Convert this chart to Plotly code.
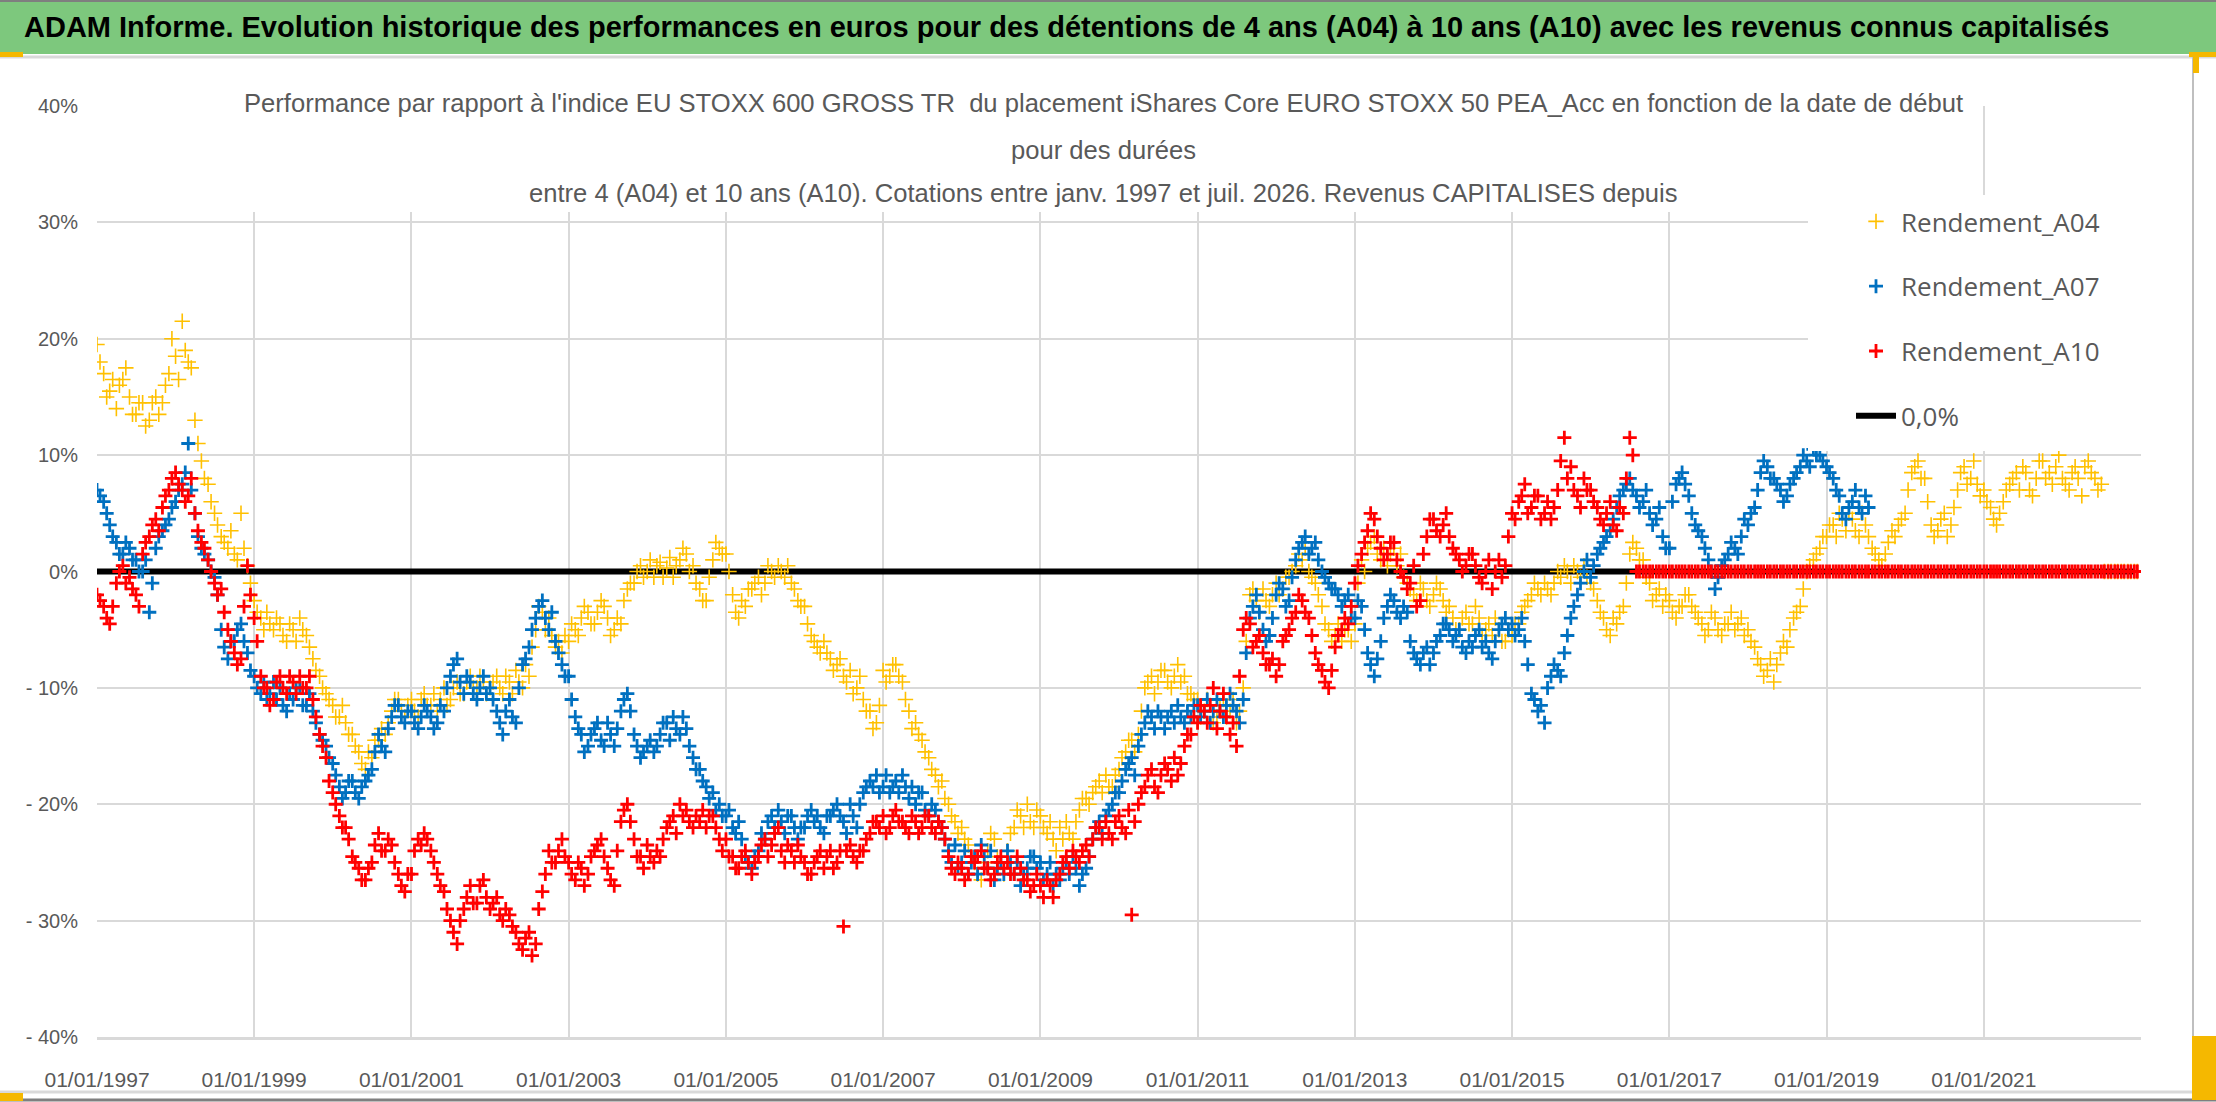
import pandas as pd
import plotly.graph_objects as go

# ---------------- data (in %) ----------------
# Two readings per month: one at the start of the month, one mid-month.
START = "1997-01-01"
N_MONTHS = 312  # Jan 1997 .. Dec 2022

A04 = [
    19.5, 17, 15.5, 14, 16.5, 15, 13.5, 14.5, 13, 15, 14.5, 17,          # 1997
    18.5, 21.5, 18, 13, 9.5, 7.5, 5, 3, 2, 1.5, 5, 0.5,                  # 1998
    -2.5, -4, -3.5, -5, -4.5, -6, -5, -4, -5.5, -7.5, -9, -10.5,         # 1999
    -11.5, -12.5, -13, -14, -15.5, -17, -16, -14.5, -14, -12, -11, -12.5,  # 2000
    -11, -12.5, -10.5, -11.5, -12, -10, -11, -9.5, -10.5, -9, -10, -9.5,  # 2001
    -10, -9, -10.5, -9.5, -8.5, -10, -9, -5, -3.5, -4, -6.5, -7,         # 2002
    -6, -5, -4, -3.5, -4.5, -2.5, -4, -5, -4.5, -1.5, -1, 0.5,           # 2003
    0, -0.5, 0.8, 0.3, -0.5, 1, 1.5, 0.5, -1.5, -2.5, 1, 2,              # 2004
    1.5, -2, -4, -3, -1.5, -0.5, -1, 0, 0.5, -0.5, -1, -2.5,             # 2005
    -3, -5.5, -6.5, -6, -7.5, -8, -9, -8.5, -10, -11, -12, -13,          # 2006
    -8.5, -9, -8, -9.5, -12, -13, -14.5, -16, -17.5, -18, -20, -21.5,    # 2007
    -22, -23.5, -25, -26.5, -24, -23, -25, -24, -22, -21, -20, -22,      # 2008
    -21, -22.5, -23, -22, -21.5, -23, -20.5, -19.5, -19, -18, -17.5, -18.5,  # 2009
    -17, -15.5, -14.5, -14, -10, -9, -9.5, -8.5, -10, -8, -9, -10.5,     # 2010
    -11, -12, -11.5, -12.5, -11, -12, -13, -10, -2, -2.5, -1.5, -3,      # 2011
    -1, -1.5, -0.5, 0.5, 1, 0, -1, -3, -5, -5.5, -6, -5,                 # 2012
    -4.5, 1, 2, 3, 1, 0.5, 2, 1.5, -1, -2, -1, -2.5,                     # 2013
    -2, -1.5, -3.5, -4, -5, -3.5, -4.5, -4, -5, -5.5, -5, -6,            # 2014
    -5.5, -4.5, -3, -2, -1.5, -1, -2, 0, 0.5, -1, 0, 0.5,                # 2015
    -1, -2.5, -4, -5.5, -4.5, -3, 1.5, 2, 1, -1, -2, -3,                 # 2016
    -2.5, -4, -3, -2, -3.5, -4.5, -5, -4, -5.5, -4.5, -5, -4,            # 2017
    -5, -6.5, -8, -8.5, -9.5, -7, -6.5, -4, -3, 0, 1, 2,                 # 2018
    3, 4, 5, 3.5, 4.5, 3, 4, 2, 1, 1.5, 3.5, 4,                          # 2019
    5, 8.5, 9.5, 8, 4, 3.5, 5, 4, 7, 9, 8, 7.5,                          # 2020
    7, 5.5, 4, 6, 7.5, 8.5, 9, 7, 8, 9.5, 8.5, 9,                        # 2021
    8, 7, 9, 6.5, 9.5, 8, 7.5, 0, 0, 0, 0, 0,                            # 2022
]
A04_MID = [
    18, 15, 16.5, 16, 17.5, 13.5, 14.5, 12.5, 14.5, 13.5, 16, 20,        # 1997
    16.5, 19, 17.5, 11, 8, 6, 4, 2.5, 3.5, 1, 2, -1,                     # 1998
    -3.5, -5, -4.5, -4, -5.5, -4.5, -6, -5, -6.5, -8.5, -10, -11,        # 1999
    -12.5, -11.5, -14, -15, -16.5, -15.5, -14.5, -13.5, -13, -11, -12, -11.5,  # 2000
    -12, -11, -11.5, -10.5, -11, -11.5, -10, -10.5, -9.5, -10, -9, -10.5,  # 2001
    -9.5, -10, -9, -10.5, -9.5, -8, -6.5, -3, -5, -5.5, -6, -5.5,        # 2002
    -4.5, -5.5, -3, -4.5, -3.5, -3, -5.5, -4, -2.5, -1, 0, -0.5,         # 2003
    1, 0.5, -0.5, 1.2, 0.5, 2, 0, -1, -2.5, -0.5, 2.5, 1.5,              # 2004
    0, -3.5, -2.5, -1.5, -1, -2, 0.5, -0.5, 0, 0.5, -1.5, -3,            # 2005
    -4.5, -6, -7, -7, -8.5, -7.5, -9.5, -10.5, -9, -12, -13.5, -11.5,    # 2006
    -9.5, -8, -9, -11, -13.5, -14, -15.5, -17, -18.5, -19.5, -21, -22.5,  # 2007
    -23, -24.5, -26, -25, -22.5, -24.5, -26, -22.5, -20.5, -22, -21.5, -20.5,  # 2008
    -22, -21.5, -24, -23, -22.5, -21.5, -19.5, -20, -18.5, -19, -18.5, -17.5,  # 2009
    -16, -14.5, -15.5, -12, -9.5, -10.5, -8.5, -9.5, -9, -9.5, -10.5, -11,  # 2010
    -12.5, -11, -13, -11.5, -12.5, -11, -12, -6, -1.5, -3.5, -2.5, -2,   # 2011
    -2, -0.5, 0, 1.5, 2, -0.5, -2, -4.5, -6, -4.5, -5, -6,               # 2012
    -1, 0, 2.5, 1.5, 2, 1.5, 0.5, -0.5, -1.5, -2.5, -1.5, -3,            # 2013
    -1, -2.5, -3, -5, -4, -4.5, -3, -5.5, -4.5, -4, -6, -5,              # 2014
    -4.5, -3.5, -2.5, -1, -2, -1.5, -1, -0.5, 0, 0.5, -0.5, -0.5,        # 2015
    -1.5, -3.5, -5, -4, -3.5, -1, 2.5, 1, -0.5, -2.5, -1.5, -2,          # 2016
    -3.5, -3, -2, -3, -4, -5.5, -3.5, -5, -4.5, -3.5, -4.5, -5.5,        # 2017
    -6, -7.5, -9, -7.5, -8, -6, -5, -3.5, -1.5, 0.5, 1.5, 3,             # 2018
    4, 3, 4.5, 5, 3.5, 5, 3, 1.5, 0.5, 2.5, 3, 4.5,                      # 2019
    7, 9, 8, 6, 3, 4.5, 3, 5.5, 8.5, 7.5, 9.5, 6.5,                      # 2020
    6, 4.5, 5, 7, 8, 7, 8.5, 6.5, 9.5, 8, 7.5, 10,                       # 2021
    7.5, 8.5, 8, 9, 8.5, 7, 0, 0, 0, 0, 0, 0,                            # 2022
]

A07 = [
    7, 6, 4, 2.5, 1.5, 2, 1, 0, -3.5, 2, 3.5, 4.5,                       # 1997
    6, 7.5, 11, 5, 2, 1, -0.5, -5, -7.5, -6, -4.5, -7,                   # 1998
    -9, -10.5, -11, -9.5, -10, -12, -11, -10, -11.5, -12, -14, -15,      # 1999
    -16.5, -18.5, -19, -18, -19.5, -18, -17, -14, -15.5, -12.5, -11.5, -13,  # 2000
    -12, -13.5, -11.5, -12.5, -13, -12, -9, -7.5, -10.5, -9.5, -11, -9,  # 2001
    -10, -12, -14, -11, -13, -8, -6.5, -4, -2.5, -5, -6, -8,             # 2002
    -9, -12.5, -14, -15, -13.5, -14.5, -13, -15, -12, -10.5, -14, -16,   # 2003
    -15, -15.5, -14, -13, -12.5, -14, -13.5, -16, -17, -18.5, -19, -20,  # 2004
    -21, -22, -21.5, -24.5, -25.5, -24, -23, -21, -20.5, -22.5, -21, -23,  # 2005
    -22, -20.5, -21, -22.5, -21, -20, -21.5, -20, -22, -19, -18, -17.5,  # 2006
    -18.5, -19, -18, -17.5, -19.5, -20, -19, -21, -20.5, -22, -24, -23.5,  # 2007
    -25, -26, -24.5, -23.5, -25.5, -26.5, -25, -24, -26, -27, -25.5, -24.5,  # 2008
    -25, -26, -27, -26.5, -25, -24.5, -27, -25.5, -23, -21.5, -21, -20,  # 2009
    -19, -17, -16, -15, -13, -12.5, -12, -13.5, -12, -11.5, -13, -12.5,  # 2010
    -11.5, -12, -13, -11, -12.5, -10.5, -12, -11, -4, -2, -5, -5.5,      # 2011
    -2, -1.5, -2.5, 1, 2.5, 1.5, 2.5, 0, -1, -1.5, -3, -2,               # 2012
    -4, -3, -7, -9, -6, -3, -2.5, -4, -3.5, -7, -8, -6.5,                # 2013
    -7, -5.5, -4.5, -6, -5, -7, -6.5, -5, -6, -7.5, -5, -4,              # 2014
    -4.5, -5, -6, -10.5, -12, -13, -9, -8.5, -7, -4, -2, 0,              # 2015
    -0.5, 1.5, 2.5, 3.5, 5.5, 7, 8, 6.5, 6, 5, 4.5, 3,                   # 2016
    2, 7.5, 8.5, 6.5, 4, 3, 1, -1.5, 0.5, 1.5, 2, 3,                     # 2017
    4, 5.5, 8.5, 9, 8, 7, 6.5, 8, 9, 9.5, 10.5, 10,                      # 2018
    9, 8, 6.5, 4.5, 6, 5.5, 6.5,                                         # 2019 (to July)
]
A07_MID = [
    6.5, 5, 3, 1.5, 2.5, 1, 0, 1, -1, 3, 4, 5.5,                         # 1997
    7, 8.5, 7, 3, 1.5, 0, -2, -6.5, -6, -5, -6, -8.5,                    # 1998
    -10, -9.5, -10.5, -11, -11.5, -10.5, -10, -11.5, -10.5, -13, -14.5, -16,  # 1999
    -17.5, -19.5, -18, -19, -18.5, -17.5, -15.5, -15, -13.5, -11.5, -12.5, -12,  # 2000
    -13, -12.5, -12, -13.5, -11.5, -10, -8, -9.5, -9, -10.5, -10, -10.5,  # 2001
    -11, -13, -12, -12.5, -10, -7.5, -5, -3, -4, -3.5, -7, -9,           # 2002
    -11, -13.5, -15.5, -14, -13, -15, -14, -13.5, -11, -12, -15, -15.5,  # 2003
    -14.5, -15, -13, -14.5, -13.5, -12.5, -15, -17, -18, -19.5, -20.5, -21,  # 2004
    -20.5, -22.5, -23, -25, -24.5, -22.5, -21.5, -22, -21.5, -21, -22, -22,  # 2005
    -21, -21.5, -22, -21, -20.5, -21, -22.5, -21, -20, -18.5, -18.5, -19,  # 2006
    -17.5, -18.5, -19, -18.5, -18.5, -19, -20.5, -20, -21.5, -23, -25, -25.5,  # 2007
    -24, -25, -26, -24.5, -24, -25.5, -26, -25, -25, -26, -24.5, -25.5,  # 2008
    -26.5, -25, -26, -25.5, -26, -25.5, -26, -24.5, -22, -22.5, -20.5, -19,  # 2009
    -18, -16.5, -17.5, -14, -12, -13.5, -12.5, -12.5, -13, -12.5, -12, -11.5,  # 2010
    -12.5, -11, -12, -12, -11.5, -11.5, -13, -7, -3, -3.5, -6, -4,       # 2011
    -1, -3, -0.5, 2, 3, 2, 1, -0.5, -1.5, -2, -2.5, -4,                  # 2012
    -2.5, -5, -8, -7.5, -4, -2, -3.5, -3, -6, -7.5, -7, -8,              # 2013
    -6, -4.5, -5, -5.5, -6.5, -6, -5.5, -6.5, -7, -6, -4.5, -5,          # 2014
    -5.5, -4, -8, -11, -11.5, -10, -8, -9, -5.5, -3, -1, 1,              # 2015
    0.5, 2, 3, 4.5, 6.5, 7.5, 7, 5.5, 7, 4, 5.5, 2,                      # 2016
    6, 8, 7.5, 5, 3.5, 2, 0, -0.5, 1, 2.5, 1.5, 4.5,                     # 2017
    5, 7, 9.5, 8, 7.5, 6, 7.5, 8.5, 10, 9, 10, 9.5,                      # 2018
    8.5, 7, 5, 5.5, 7, 5, 5.5,                                           # 2019 (to July)
]

A10 = [
    -2, -3, -4.5, -1, 0.5, -0.5, -2, 1.5, 3, 4.5, 5.5, 7,                # 1997
    8.5, 7, 6.5, 5, 2.5, 1, -1, -1.5, -5, -7, -7.5, 0.5,                 # 1998
    -4, -9, -10, -11, -9, -10.5, -9.5, -9, -10, -11, -14, -16,           # 1999
    -19, -21, -22, -24.5, -25.5, -26.5, -25, -22.5, -24, -23.5, -26, -27.5,  # 2000
    -26, -23, -22.5, -24, -26, -27.5, -30, -32, -29, -27, -28.5, -26.5,  # 2001
    -29, -28, -30, -29.5, -31, -32.5, -31, -32, -27.5, -24, -25, -23,    # 2002
    -25, -26.5, -25.5, -26, -24, -23, -25.5, -27, -21.5, -20, -23, -24.5,  # 2003
    -23.5, -25, -24.5, -22, -21, -20, -20.5, -22, -21.5, -22, -21, -23,  # 2004
    -23, -24.5, -25.5, -24, -26, -24.5, -23, -23.5, -22, -25, -24, -23.5,  # 2005
    -25, -26, -24.5, -25.5, -24, -25, -30.5, -23.5, -25, -24, -22.5, -21.5,  # 2006
    -21, -22, -20.5, -21.5, -22.5, -21.5, -22, -21, -22.5, -22, -24.5, -26,  # 2007
    -25.5, -26, -25, -24, -25.5, -26, -24.5, -25, -26, -25.5, -26.5, -27,  # 2008
    -27, -26.5, -28, -26, -24.5, -24, -25, -23.5, -23, -22, -21.5, -23,  # 2009
    -21, -22.5, -29.5, -20, -18.5, -17, -19, -16.5, -18, -17.5, -15, -14,  # 2010
    -13, -12, -11.5, -13.5, -10.5, -14, -15, -5, -4.5, -6, -7, -8,       # 2011
    -9, -6, -5, -3.5, -2.5, -4, -7, -8.5, -10, -6.5, -5, -4.5,           # 2012
    -1, 1.5, 3.5, 4.5, 2, 1.5, 2.5, 0, -1.5, 0.5, -2.5, 3,               # 2013
    4.5, 3, 5, 2, 1, 0.5, 1.5, -0.5, 0, -1.5, 1, 0.5,                    # 2014
    5, 6, 7.5, 5.5, 6.5, 5, 4.5, 7, 11.5, 9, 6.5, 8,                     # 2015
    7, 5.5, 4, 6, 3.5, 5, 11.5, 0, 0, 0, 0, 0,                           # 2016
    0, 0, 0, 0, 0, 0, 0, 0, 0, 0, 0, 0,                                  # 2017
    0, 0, 0, 0, 0, 0, 0, 0, 0, 0, 0, 0,                                  # 2018
    0, 0, 0, 0, 0, 0, 0, 0, 0, 0, 0, 0,                                  # 2019
    0, 0, 0, 0, 0, 0, 0, 0, 0, 0, 0, 0,                                  # 2020
    0, 0, 0, 0, 0, 0, 0, 0, 0, 0, 0, 0,                                  # 2021
    0, 0, 0, 0, 0, 0, 0, 0, 0, 0, 0, 0,                                  # 2022
]
A10_MID = [
    -2.5, -4, -3, 0, -1, -1.5, -3, 2.5, 4, 3.5, 6.5, 8,                  # 1997
    7.5, 6, 8, 3.5, 2, 0, -2, -3.5, -6, -8, -3, -2,                      # 1998
    -6, -10, -11.5, -9.5, -10, -9, -10.5, -10, -9, -12.5, -15, -18,      # 1999
    -20, -22, -23, -25, -26.5, -25.5, -23.5, -24, -23, -25, -27, -26,    # 2000
    -24, -23.5, -23, -25, -27, -29, -31, -30, -28, -28.5, -27, -28,      # 2001
    -28.5, -29.5, -29, -30.5, -32, -31.5, -33, -29, -26, -25, -24, -24.5,  # 2002
    -26, -25, -27, -24.5, -23.5, -24.5, -26.5, -24, -20.5, -21.5, -24.5, -25.5,  # 2003
    -24.5, -24, -23, -21.5, -22.5, -21, -21.5, -21, -20.5, -21, -22, -24,  # 2004
    -24.5, -25.5, -24.5, -25, -25, -23.5, -24.5, -22.5, -24, -23.5, -25, -24.5,  # 2005
    -26, -25, -24, -24.5, -25.5, -24, -24, -24.5, -24, -23, -21.5, -22,  # 2006
    -22.5, -21, -21.5, -22, -21, -22.5, -21, -22, -21.5, -23, -25.5, -25,  # 2007
    -26.5, -24.5, -24.5, -25.5, -26.5, -25, -25.5, -26, -24.5, -26.5, -27.5, -26,  # 2008
    -28, -27, -26.5, -25, -25.5, -24.5, -24, -24.5, -22, -23, -22.5, -21.5,  # 2009
    -22, -20.5, -21.5, -19, -17.5, -18.5, -17.5, -17, -16, -16.5, -14, -12.5,  # 2010
    -11.5, -13, -10, -12, -12.5, -13, -9, -4, -6.5, -5.5, -8, -7.5,      # 2011
    -8, -5.5, -4, -2, -3.5, -5.5, -8, -9.5, -8.5, -5.5, -4, -3,          # 2012
    0.5, 2.5, 5, 3, 1, 2.5, 1, -0.5, -1, -3, 1.5, 4.5,                   # 2013
    3.5, 4, 3, 1.5, 0, 1.5, 0.5, -1, 1, 0, -0.5, 3,                      # 2014
    4.5, 6.5, 5, 6.5, 4.5, 6, 5.5, 9.5, 8, 7, 5.5, 7,                    # 2015
    6, 4.5, 5, 4, 5.5, 8, 10, 0, 0, 0, 0, 0,                             # 2016
    0, 0, 0, 0, 0, 0, 0, 0, 0, 0, 0, 0,                                  # 2017
    0, 0, 0, 0, 0, 0, 0, 0, 0, 0, 0, 0,                                  # 2018
    0, 0, 0, 0, 0, 0, 0, 0, 0, 0, 0, 0,                                  # 2019
    0, 0, 0, 0, 0, 0, 0, 0, 0, 0, 0, 0,                                  # 2020
    0, 0, 0, 0, 0, 0, 0, 0, 0, 0, 0, 0,                                  # 2021
    0, 0, 0, 0, 0, 0, 0, 0, 0, 0, 0, 0,                                  # 2022
]

ZERO_LEVEL = [0.0, 0.0]

SERIES_NAMES = ["Rendement_A04", "Rendement_A07", "Rendement_A10", "0,0%"]
Y_TICKS = [-40, -30, -20, -10, 0, 10, 20, 30, 40]
Y_TICK_LABELS = ["- 40%", "- 30%", "- 20%", "- 10%", "0%", "10%", "20%", "30%", "40%"]
X_TICKS = ["1997-01-01", "1999-01-01", "2001-01-01", "2003-01-01", "2005-01-01",
           "2007-01-01", "2009-01-01", "2011-01-01", "2013-01-01", "2015-01-01",
           "2017-01-01", "2019-01-01", "2021-01-01"]
X_TICK_LABELS = ["01/01/1997", "01/01/1999", "01/01/2001", "01/01/2003", "01/01/2005",
                 "01/01/2007", "01/01/2009", "01/01/2011", "01/01/2013", "01/01/2015",
                 "01/01/2017", "01/01/2019", "01/01/2021"]
X_RANGE = ["1997-01-01", "2023-01-01"]

TITLE = ("ADAM Informe. Evolution historique des performances en euros pour des détentions "
         "de 4 ans (A04) à 10 ans (A10) avec les revenus connus capitalisés")
SUB1 = ("Performance par rapport à l'indice EU STOXX 600 GROSS TR \u00a0du placement iShares Core "
        "EURO STOXX 50 PEA_Acc en fonction de la date de début")
SUB2 = "pour des durées"
SUB3 = ("entre 4 (A04) et 10 ans (A10). Cotations entre janv. 1997 et juil. 2026. "
        "Revenus CAPITALISES depuis")

# ---------------- styling ----------------
W, H = 2216, 1102
L, R, T, B = 97, 75, 106, 65
PW, PH = W - L - R, H - T - B
GRAY_TXT = "#595959"
GRID = "#D9D9D9"
C04, C07, C10 = "#FFC000", "#0070C0", "#FF0000"
ORANGE = "#F5B800"
FONT = "Liberation Sans, Arial, sans-serif"


def px_x(px):
    return (px - L) / PW


def px_y(py):
    return (H - B - py) / PH


dates = pd.date_range(START, periods=N_MONTHS, freq="MS")
dates_mid = dates + pd.Timedelta(days=14)

fig = go.Figure()

# zero line first (drawn beneath the points), listed last in the legend
fig.add_trace(go.Scatter(
    x=[dates[0], dates[-1]], y=ZERO_LEVEL, mode="lines", name=SERIES_NAMES[3],
    line=dict(color="black", width=6), legendrank=4, legendgroup="g4"))


def add_pts(vals, vals_mid, name, color, lw, size, rank):
    xs = list(dates[:len(vals)]) + list(dates_mid[:len(vals_mid)])
    ys = list(vals) + list(vals_mid)
    fig.add_trace(go.Scatter(
        x=xs, y=ys, mode="markers", name=name,
        marker=dict(symbol="cross-thin", size=size, color=color,
                    line=dict(color=color, width=lw)),
        legendrank=rank, legendgroup="g%d" % rank))


add_pts(A04, A04_MID, SERIES_NAMES[0], C04, 1.6, 11, 1)
add_pts(A07, A07_MID, SERIES_NAMES[1], C07, 2.8, 10, 2)
add_pts(A10, A10_MID, SERIES_NAMES[2], C10, 2.8, 10, 3)


def rect(x0, y0, x1, y1, color):
    return dict(type="rect", xref="paper", yref="paper", x0=px_x(x0), x1=px_x(x1),
                y0=px_y(y1), y1=px_y(y0), fillcolor=color, line=dict(width=0), layer="above")


def hline(x0, x1, y, color, w):
    return dict(type="line", xref="paper", yref="paper", x0=px_x(x0), x1=px_x(x1),
                y0=px_y(y), y1=px_y(y), line=dict(color=color, width=w), layer="above")


shapes = [
    rect(0, 0, W, 54, "#7DC87D"),                 # green title band
    hline(0, W, 1, "#7F7F7F", 2),
    hline(0, W, 57, GRID, 3),
    dict(type="line", xref="paper", yref="paper", x0=px_x(2193), x1=px_x(2193),
         y0=px_y(57), y1=px_y(1100), line=dict(color="#BFBFBF", width=2), layer="above"),
    hline(0, 2193, 1092, GRID, 3),
    hline(0, W, 1100, "#7F7F7F", 3),
    # selection handles
    rect(0, 52, 23, 57, ORANGE),
    rect(2189, 52, 2216, 57, ORANGE),
    rect(2193, 52, 2199, 73, ORANGE),
    rect(2192, 1036, 2216, 1100, ORANGE),
    rect(0, 1093, 23, 1101, ORANGE),
    # white boxes behind chart title and legend
    rect(233, 66, 1967, 212, "white"),
    rect(1808, 195, 2141, 451, "white"),
]

annotations = [
    dict(text="<b>" + TITLE + "</b>", xref="paper", yref="paper", x=px_x(1066), y=px_y(27),
         xanchor="center", yanchor="middle", showarrow=False,
         font=dict(family=FONT, size=29, color="black")),
]
for txt, yc in [(SUB1, 103), (SUB2, 150), (SUB3, 193)]:
    annotations.append(dict(
        text=txt, xref="paper", yref="paper", x=px_x(1103), y=px_y(yc),
        xanchor="center", yanchor="middle", showarrow=False,
        font=dict(family=FONT, size=25.6, color=GRAY_TXT)))

fig.update_layout(
    width=W, height=H,
    margin=dict(l=L, r=R, t=T, b=B, autoexpand=False),
    paper_bgcolor="white", plot_bgcolor="white",
    font=dict(family=FONT, color=GRAY_TXT),
    showlegend=True,
    legend=dict(x=px_x(1851), y=px_y(198), xanchor="left", yanchor="top",
                bgcolor="rgba(0,0,0,0)", borderwidth=0,
                font=dict(family="Open Sans, sans-serif", size=26, color=GRAY_TXT),
                tracegroupgap=28, itemwidth=40, traceorder="grouped"),
    xaxis=dict(type="date", range=X_RANGE, tickvals=X_TICKS, ticktext=X_TICK_LABELS,
               showgrid=True, gridcolor=GRID, gridwidth=2, zeroline=False,
               showline=True, linecolor=GRID, linewidth=3, ticks="",
               ticklabelstandoff=22,
               tickfont=dict(family=FONT, size=21, color=GRAY_TXT)),
    yaxis=dict(range=[-40, 40], tickvals=Y_TICKS, ticktext=Y_TICK_LABELS,
               showgrid=True, gridcolor=GRID, gridwidth=2, zeroline=False,
               showline=False, ticks="", ticklabelstandoff=18,
               tickfont=dict(family=FONT, size=20, color=GRAY_TXT)),
    shapes=shapes, annotations=annotations,
)

fig.write_html("out.html",
               config={"displayModeBar": False},
               post_script="document.body.style.margin='0';"
                           "document.body.style.overflow='hidden';")
